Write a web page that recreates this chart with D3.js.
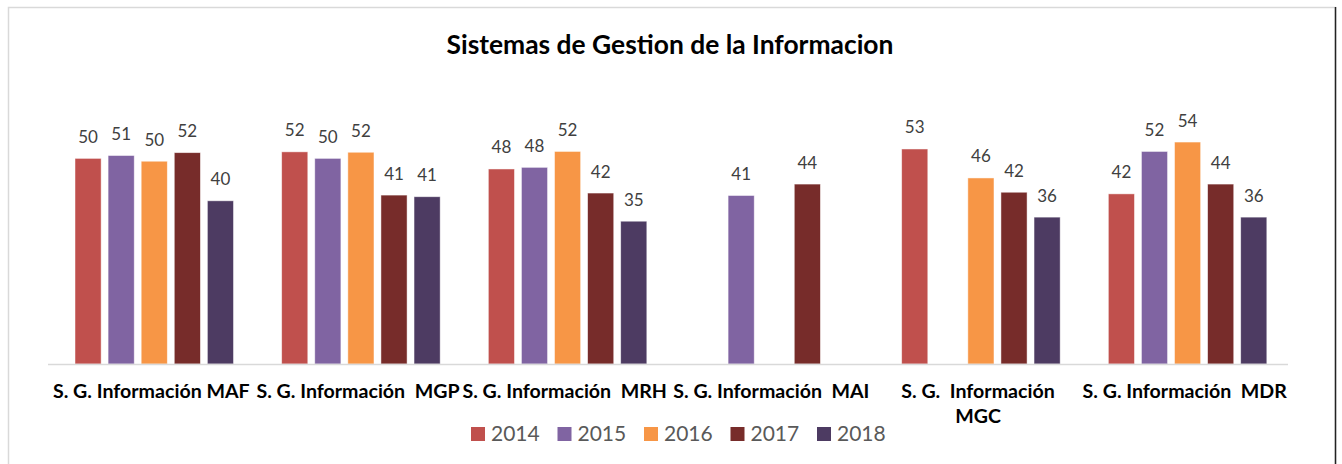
<!DOCTYPE html>
<html>
<head>
<meta charset="utf-8">
<script src="https://cdn.jsdelivr.net/npm/d3@7"></script>
<style>
    body { margin:0; background:#fff; }
    text { font-family: Lato, "Open Sans", sans-serif; }
</style>
</head>
<body>
<div id="canvas"></div>
<script>
/* values (labels show them rounded) */
var years = ['2014','2015','2016','2017','2018'];
var categories = [
    'S. G. Información MAF',
    'S. G. Información  MGP',
    'S. G. Información  MRH',
    'S. G. Información  MAI',
    'S. G.  Información\nMGC',
    'S. G. Información  MDR'
];
var values2014 = [50.4, 52.0, 47.8, null, 52.7, 41.7];
var values2015 = [51.1, 50.4, 48.2, 41.3, null, 52.1];
var values2016 = [49.7, 51.9, 52.1, null, 45.6, 54.4];
var values2017 = [51.8, 41.4, 41.9, 44.1, 42.1, 44.1];
var values2018 = [40.0, 41.0, 35.0, null, 36.0, 36.0];
var yDomain = [0, 60];

var series = [values2014, values2015, values2016, values2017, values2018];
var colors = ['#C0504D','#8064A2','#F79646','#772C2A','#4D3B62'];

var canvasWidth = 1342,
    canvasHeight = 464;

var svg = d3.select('#canvas')
    .append('svg')
    .attr('width', canvasWidth)
    .attr('height', canvasHeight);

// chart frame (light grey, dark line at the right edge)
svg.append('rect')
    .attr('x', 8.5).attr('y', 7.5)
    .attr('width', 1327).attr('height', 470)
    .style('fill', 'white')
    .style('stroke', '#D9D9D9')
    .style('stroke-width', 1.5);
svg.append('line')
    .attr('x1', 1335.5).attr('x2', 1335.5)
    .attr('y1', 7).attr('y2', canvasHeight)
    .style('stroke', '#222')
    .style('stroke-width', 1.5);

svg.append('text')
    .attr('x', 670)
    .attr('y', 54)
    .attr('text-anchor', 'middle')
    .style('font-weight', 'bold')
    .style('font-size', '26.4px')
    .style('fill', '#000')
    .text('Sistemas de Gestion de la Informacion');

var plot = {l:48, r:1288, t:119.2, b:364};

var x0 = d3.scaleBand()
    .domain(categories)
    .range([plot.l, plot.r]);

var x1 = d3.scaleBand()
    .domain(years)
    .range([27, 27 + 5 * 31.7])
    .paddingInner(0.21)
    .paddingOuter(0);

var y = d3.scaleLinear()
    .domain(yDomain)
    .range([plot.b, plot.t]);

var fmt = d3.format('.0f');

var groups = svg.selectAll('.cat')
    .data(categories)
    .enter()
    .append('g')
    .attr('class', 'cat')
    .attr('transform', function(d){ return 'translate(' + x0(d) + ',0)'; });

groups.each(function(cat, ci){
    var g = d3.select(this);
    var rows = years.map(function(yr, si){ return {year:yr, v:series[si][ci], c:colors[si]}; })
        .filter(function(d){ return d.v !== null; });

    g.selectAll('rect')
        .data(rows)
        .enter()
        .append('rect')
        .attr('x', function(d){ return x1(d.year); })
        .attr('y', function(d){ return y(d.v); })
        .attr('width', x1.bandwidth())
        .attr('height', function(d){ return y(0) - y(d.v); })
        .style('fill', function(d){ return d.c; })
        .style('stroke', 'rgba(255,255,255,0.6)')
        .style('stroke-width', 0.8);

    g.selectAll('.val')
        .data(rows)
        .enter()
        .append('text')
        .attr('class', 'val')
        .attr('x', function(d){ return x1(d.year) + x1.bandwidth() / 2; })
        .attr('y', function(d){ return y(d.v) - 15.5; })
        .attr('text-anchor', 'middle')
        .style('font-size', '17px')
        .style('fill', '#404040')
        .text(function(d){ return fmt(d.v); });
});

// axis line
svg.append('line')
    .attr('x1', plot.l).attr('x2', plot.r)
    .attr('y1', plot.b + 0.5).attr('y2', plot.b + 0.5)
    .style('stroke', '#D9D9D9')
    .style('stroke-width', 1.5);

// category labels, can break on two lines
var labels = svg.selectAll('.catlabel')
    .data(categories)
    .enter()
    .append('text')
    .attr('class', 'catlabel')
    .attr('text-anchor', 'middle')
    .style('font-weight', 'bold')
    .style('font-size', '19.6px')
    .style('fill', '#000')
    .style('white-space', 'pre');

labels.each(function(d){
    var t = d3.select(this);
    d.split('\n').forEach(function(line, i){
        t.append('tspan')
            .attr('x', x0(d) + x0.bandwidth() / 2)
            .attr('y', 398 + i * 25)
            .text(line);
    });
});

// legend
var legendStep = 86.5;
var legend = svg.append('g')
    .attr('transform', 'translate(' + (677.5 - (legendStep * 4 + 67) / 2) + ',0)');

var items = legend.selectAll('g')
    .data(years)
    .enter()
    .append('g')
    .attr('transform', function(d, i){ return 'translate(' + (i * legendStep) + ',0)'; });

items.append('rect')
    .attr('x', 0).attr('y', 427)
    .attr('width', 14).attr('height', 14)
    .style('fill', function(d, i){ return colors[i]; });

items.append('text')
    .attr('x', 20).attr('y', 441)
    .style('font-size', '21px')
    .style('fill', '#595959')
    .text(function(d){ return d; });
</script>
</body>
</html>
